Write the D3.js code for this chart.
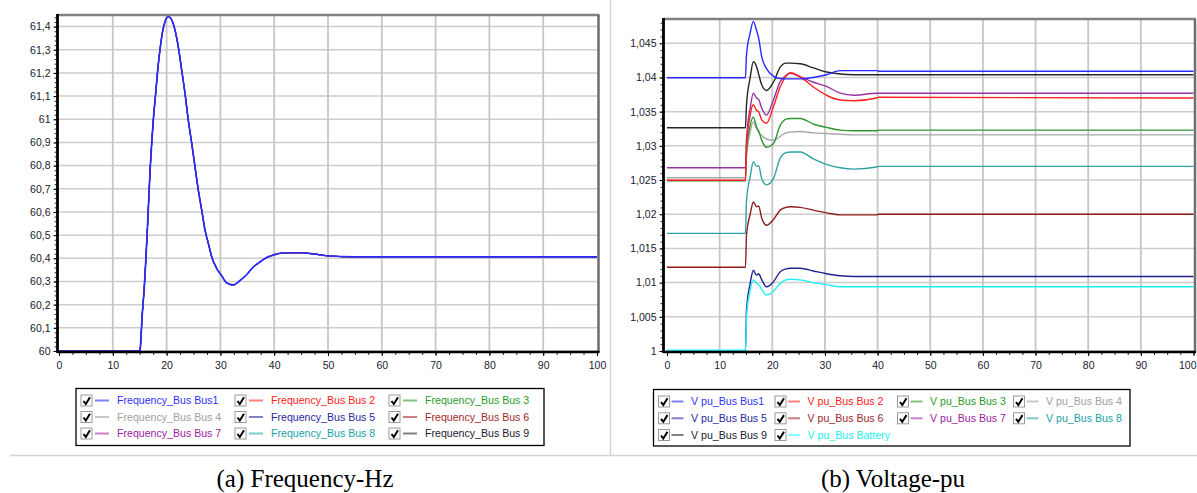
<!DOCTYPE html>
<html>
<head>
<meta charset="utf-8">
<script src="https://cdn.jsdelivr.net/npm/d3@7"></script>
<style>
  html, body { margin: 0; padding: 0; background: #fff; }
  svg { display: block; }
  .tick text { font-family: "Liberation Sans", Arial, sans-serif; font-size: 10.5px; fill: #202030; }
</style>
</head>
<body>
<svg id="chart" width="1197" height="493"></svg>
<script>
// ---- data ----
const xTicks = [0, 10, 20, 30, 40, 50, 60, 70, 80, 90, 100];
const freqTicks = [60, 60.1, 60.2, 60.3, 60.4, 60.5, 60.6, 60.7, 60.8, 60.9, 61, 61.1, 61.2, 61.3, 61.4];
const voltTicks = [1, 1.005, 1.01, 1.015, 1.02, 1.025, 1.03, 1.035, 1.04, 1.045];

const freqLabels = [
  "Frequency_Bus Bus1", "Frequency_Bus Bus 2", "Frequency_Bus Bus 3",
  "Frequency_Bus Bus 4", "Frequency_Bus Bus 5", "Frequency_Bus Bus 6",
  "Frequency_Bus Bus 7", "Frequency_Bus Bus 8", "Frequency_Bus Bus 9",
];
const voltLabels = [
  "V pu_Bus Bus1", "V pu_Bus Bus 2", "V pu_Bus Bus 3", "V pu_Bus Bus 4",
  "V pu_Bus Bus 5", "V pu_Bus Bus 6", "V pu_Bus Bus 7", "V pu_Bus Bus 8",
  "V pu_Bus Bus 9", "V pu_Bus Battery",
];

// all nine bus frequencies lie on top of each other
const freqTime = [0, 15, 15.06, 15.49, 15.86, 16.17, 16.48, 16.73, 16.97, 17.23, 17.53, 17.97, 18.35, 18.77, 19.2, 19.7, 20.32, 20.95, 21.56, 22.17, 22.8, 23.42, 24.03, 24.67, 25.28, 25.89, 26.52, 27.14, 27.75, 28.38, 29.3, 30.24, 31.2, 32.4, 33.6, 34.9, 36.1, 37.4, 38.6, 39.8, 41.7, 44.8, 47.3, 49.8, 55, 100];
const freqBus = [60, 60, 60.004, 60.163, 60.278, 60.407, 60.551, 60.68, 60.795, 60.896, 60.997, 61.112, 61.213, 61.3, 61.371, 61.421, 61.443, 61.429, 61.385, 61.313, 61.213, 61.112, 60.997, 60.896, 60.795, 60.695, 60.609, 60.522, 60.465, 60.407, 60.357, 60.325, 60.293, 60.285, 60.303, 60.33, 60.362, 60.385, 60.403, 60.414, 60.423, 60.424, 60.419, 60.411, 60.406, 60.406];

const voltTime = [0, 14.9, 15.1, 15.8, 16.4, 17.0, 17.4, 18.0, 18.9, 20.2, 21.5, 22.6, 23.4, 25.3, 27.8, 30.3, 32.9, 35.5, 39.8, 40.2, 100];
const vBus1 = [1.03996, 1.03996, 1.0433, 1.0465, 1.0482, 1.0469, 1.0458, 1.0430, 1.0413, 1.0402, 1.03985, 1.0398, 1.0398, 1.0398, 1.0400, 1.0404, 1.0410, 1.0410, 1.0410, 1.0409, 1.0409];
const vBus2 = [1.02496, 1.02496, 1.0300, 1.0345, 1.0360, 1.0352, 1.0350, 1.0338, 1.0333, 1.0357, 1.0386, 1.0402, 1.0407, 1.0401, 1.0386, 1.0374, 1.0367, 1.0366, 1.0370, 1.0371, 1.0370];
const vBus3 = [1.0249, 1.0249, 1.0290, 1.0330, 1.0342, 1.0328, 1.0322, 1.0308, 1.0298, 1.0303, 1.0330, 1.0339, 1.0340, 1.0340, 1.0332, 1.0327, 1.0323, 1.0322, 1.0322, 1.0323, 1.0323];
const vBus4 = [1.02534, 1.02534, 1.0285, 1.0320, 1.0335, 1.0325, 1.0320, 1.0315, 1.0310, 1.0308, 1.0314, 1.0319, 1.0320, 1.0321, 1.0319, 1.0318, 1.0317, 1.0316, 1.0316, 1.0316, 1.0316];
const vBus5 = [0.99995, 0.99995, 1.0060, 1.0099, 1.0118, 1.0111, 1.0113, 1.0104, 1.0094, 1.0101, 1.0116, 1.0120, 1.0121, 1.0121, 1.0117, 1.0113, 1.0110, 1.0109, 1.0109, 1.0109, 1.0109];
const vBus6 = [1.01224, 1.01224, 1.0170, 1.0200, 1.0218, 1.0211, 1.0212, 1.0194, 1.0184, 1.0192, 1.0206, 1.0210, 1.0211, 1.0210, 1.0206, 1.0202, 1.0199, 1.0199, 1.0199, 1.0200, 1.0200];
const vBus7 = [1.0268, 1.0268, 1.0310, 1.0355, 1.0377, 1.0370, 1.0368, 1.0355, 1.0345, 1.0367, 1.0394, 1.0403, 1.0406, 1.0401, 1.0393, 1.0387, 1.0377, 1.0374, 1.0377, 1.0377, 1.0377];
const vBus8 = [1.0172, 1.0172, 1.0220, 1.0255, 1.0277, 1.0270, 1.0271, 1.0252, 1.0243, 1.0252, 1.0282, 1.0290, 1.0291, 1.0291, 1.0281, 1.0273, 1.0268, 1.0266, 1.0269, 1.0270, 1.0270];
const vBus9 = [1.03265, 1.03265, 1.0360, 1.0400, 1.0423, 1.0416, 1.0405, 1.0389, 1.0381, 1.0393, 1.0415, 1.0421, 1.0421, 1.0420, 1.0414, 1.0408, 1.0405, 1.0404, 1.0404, 1.0404, 1.0404];
const vBattery = [1.0001, 1.0001, 1.0050, 1.0089, 1.0104, 1.0099, 1.0097, 1.0090, 1.0082, 1.0087, 1.0099, 1.0104, 1.0105, 1.0104, 1.0100, 1.0097, 1.0094, 1.0094, 1.0094, 1.0094, 1.0094];

// ---- colours: line, legend sample, legend text ----
const lineColors = ["#2a2aff", "#ff2020", "#2e962e", "#a8a8a8", "#22228e", "#8e1c1c", "#9a30a4", "#30a2a2", "#262626", "#1ef0f8"];
const sampleColors = ["#8080ff", "#ff8080", "#80c080", "#c8c8c8", "#8080c8", "#c88080", "#c880c8", "#80c8c8", "#808080", "#80ffff"];
const textColors = ["#3030ff", "#ff2020", "#2a9a2a", "#a0a0a0", "#2828a0", "#a02828", "#a020a0", "#20a0a8", "#202030", "#20f0f0"];

const svg = d3.select("#chart");
svg.append("rect").attr("width", 1197).attr("height", 493).attr("fill", "#fff");

const commaFmt = (d) => String(+d.toFixed(3)).replace(".", ",");

// separators between the two panels and the captions
svg.append("line").attr("x1", 10).attr("x2", 1197).attr("y1", 455.5).attr("y2", 455.5)
  .attr("stroke", "#d4d4d4").attr("stroke-width", 1.5);
svg.append("line").attr("x1", 610.5).attr("x2", 610.5).attr("y1", 0).attr("y2", 455.5)
  .attr("stroke", "#d4d4d4").attr("stroke-width", 1.5);

const drawPanel = (p) => {
  const x = d3.scaleLinear().domain([0, 100]).range([p.x0, p.x1]);
  const y = d3.scaleLinear().domain(p.yDomain).range([p.yBottom, p.yTop]);
  const g = svg.append("g");
  const right = p.x1 + 1.5;

  // gridlines
  g.append("g")
    .selectAll("line")
    .data(p.yTicks)
    .join("line")
    .attr("x1", p.axisX).attr("x2", right)
    .attr("y1", (d) => y(d)).attr("y2", (d) => y(d))
    .attr("stroke", "#cdcdcd").attr("stroke-width", 1.5);
  g.append("g")
    .selectAll("line")
    .data(xTicks.slice(1, -1))
    .join("line")
    .attr("x1", (d) => x(d)).attr("x2", (d) => x(d))
    .attr("y1", p.yTop).attr("y2", p.axisY)
    .attr("stroke", "#c6c6c6").attr("stroke-width", 1.8);

  // curves
  g.append("clipPath").attr("id", p.id + "-clip")
    .append("rect")
    .attr("x", p.axisX).attr("y", p.yTop)
    .attr("width", right - p.axisX).attr("height", p.axisY - p.yTop);

  const line = d3.line()
    .curve(d3.curveMonotoneX)
    .x((d) => x(d[0]))
    .y((d) => y(d[1]));

  const plot = g.append("g").attr("clip-path", `url(#${p.id}-clip)`);
  p.order.forEach((i, n) => {
    const pts = p.time.map((t, k) => [t, p.series[i][k]]);
    const top = n === p.order.length - 1;
    plot.append("path")
      .datum(pts)
      .attr("fill", "none")
      .attr("stroke", lineColors[i])
      .attr("stroke-width", top ? p.lineWidth : p.underWidth)
      .attr("d", line);
  });

  // frame: grey top and right, black axes
  g.append("line").attr("x1", p.axisX).attr("x2", right + 1).attr("y1", p.yTop).attr("y2", p.yTop)
    .attr("stroke", "#808080").attr("stroke-width", 2.5);
  g.append("line").attr("x1", right).attr("x2", right).attr("y1", p.yTop).attr("y2", p.axisY)
    .attr("stroke", "#6e6e6e").attr("stroke-width", 2.5);

  // minor ticks
  g.append("g")
    .attr("transform", `translate(0, ${p.axisY})`)
    .call(d3.axisBottom(x).tickValues(d3.range(0, 100.1, 2.5)).tickSize(3).tickFormat("").tickSizeOuter(0))
    .call((s) => s.select(".domain").remove())
    .call((s) => s.selectAll("line").attr("stroke", "#202020"));
  g.append("g")
    .attr("transform", `translate(${p.axisX}, 0)`)
    .call(d3.axisLeft(y).tickValues(d3.range(p.yDomain[0], p.yDomain[1], p.minorStep)).tickSize(3).tickFormat("").tickSizeOuter(0))
    .call((s) => s.select(".domain").remove())
    .call((s) => s.selectAll("line").attr("stroke", "#303030"));

  // x axis
  g.append("g")
    .attr("transform", `translate(0, ${p.axisY})`)
    .call(d3.axisBottom(x).tickValues(xTicks).tickSize(4).tickPadding(6).tickSizeOuter(0))
    .call((s) => s.select(".domain").attr("stroke", "#000").attr("stroke-width", 2.5)
      .attr("d", `M${p.axisX},0H${right + 1}`))
    .call((s) => s.selectAll(".tick line").attr("stroke", "#000"))
    .call((s) => {
      // keep the last label inside the window
      if (p.lastLabelEnd) {
        s.selectAll(".tick text").filter((d) => d === 100)
          .attr("text-anchor", "end").attr("x", 1196 - x(100));
      }
    });

  // y axis
  g.append("g")
    .attr("transform", `translate(${p.axisX}, 0)`)
    .call(d3.axisLeft(y).tickValues(p.yTicks).tickFormat(commaFmt).tickSize(4).tickPadding(3).tickSizeOuter(0))
    .call((s) => s.select(".domain").attr("stroke", "#000").attr("stroke-width", 2.8)
      .attr("d", `M0,${p.yTop - 1}V${p.axisY + 1}`))
    .call((s) => s.selectAll(".tick line").attr("stroke", "#000"));

  // legend
  const lg = p.legend;
  svg.append("rect")
    .attr("x", lg.x).attr("y", lg.y).attr("width", lg.w).attr("height", lg.h)
    .attr("fill", "#fff").attr("stroke", "#000").attr("stroke-width", 1.3);
  p.labels.forEach((label, i) => {
    const cx = lg.cols[i % lg.cols.length];
    const cy = lg.rows[Math.floor(i / lg.cols.length)];
    const item = svg.append("g").attr("transform", `translate(${cx}, ${cy})`);
    item.append("rect")
      .attr("x", 0).attr("y", -5.5).attr("width", 11).attr("height", 11)
      .attr("fill", "#fff").attr("stroke", "#9a9a9a").attr("stroke-width", 1);
    item.append("path")
      .attr("d", "M2.5,0.5 L4.8,3.5 L9,-3.2")
      .attr("fill", "none").attr("stroke", "#000").attr("stroke-width", 2);
    item.append("line")
      .attr("x1", lg.lineX[0]).attr("x2", lg.lineX[1]).attr("y1", 0).attr("y2", 0)
      .attr("stroke", sampleColors[i]).attr("stroke-width", 2);
    item.append("text")
      .attr("x", lg.textX).attr("y", 0).attr("dy", "0.35em")
      .attr("font-family", "'Liberation Sans', Arial, sans-serif")
      .attr("font-size", 10.6)
      .attr("fill", textColors[i])
      .text(label);
  });

  // caption
  svg.append("text")
    .attr("x", p.captionX).attr("y", 487)
    .attr("text-anchor", "middle")
    .attr("font-family", "'Liberation Serif', 'Times New Roman', serif")
    .attr("font-size", 25)
    .attr("fill", "#000")
    .text(p.caption);
};

// (a) frequency panel
drawPanel({
  id: "freq",
  x0: 59, x1: 597, axisX: 57.5, axisY: 352,
  yDomain: [60, 61.45], yBottom: 351, yTop: 15,
  yTicks: freqTicks, minorStep: 0.02,
  time: freqTime,
  series: d3.range(9).map(() => freqBus),
  order: [8, 7, 6, 5, 4, 3, 2, 1, 0],
  lineWidth: 1.7, underWidth: 1,
  labels: freqLabels,
  legend: {
    x: 76, y: 388.5, w: 468, h: 57,
    cols: [81, 235, 389], rows: [400.5, 417, 433.5],
    lineX: [14, 28], textX: 36,
  },
  caption: "(a) Frequency-Hz", captionX: 305,
});

// (b) voltage panel
drawPanel({
  id: "volt",
  x0: 667, x1: 1193.5, axisX: 663.5, axisY: 352,
  yDomain: [1, 1.04855], yBottom: 351, yTop: 19,
  yTicks: voltTicks, minorStep: 0.001,
  time: voltTime,
  series: [vBus1, vBus2, vBus3, vBus4, vBus5, vBus6, vBus7, vBus8, vBus9, vBattery],
  order: [4, 9, 5, 7, 3, 2, 6, 1, 8, 0],
  lineWidth: 1.4, underWidth: 1.4,
  labels: voltLabels,
  lastLabelEnd: true,
  legend: {
    x: 653.5, y: 389.5, w: 476.5, h: 56.5,
    cols: [658.5, 775, 897.5, 1013.5], rows: [401.5, 418.3, 435],
    lineX: [13, 25], textX: 32.5,
  },
  caption: "(b) Voltage-pu", captionX: 893,
});
</script>
</body>
</html>
